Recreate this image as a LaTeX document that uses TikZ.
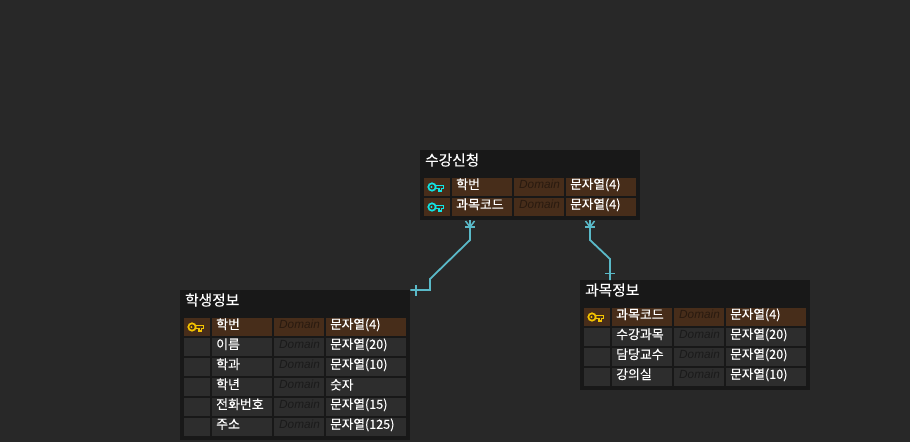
\documentclass[tikz,border=0pt]{standalone}
\usepackage{fontspec}
\setmainfont[FakeBold=0.25]{Noto Sans CJK KR}
\newfontfamily\domfont{Liberation Sans}
\definecolor{bg}{HTML}{282828}
\definecolor{outer}{HTML}{181818}
\definecolor{rowc}{HTML}{2D2D2D}
\definecolor{keyrow}{HTML}{472D1A}
\definecolor{link}{HTML}{5AB9C8}
\definecolor{pkkey}{HTML}{F5C400}
\definecolor{fkkey}{HTML}{10E4E4}
\tikzset{
  tablebox/.style={fill=outer,draw=none,inner sep=0pt,anchor=north west},
  cellbox/.style={inner sep=0pt,anchor=north west,draw=none,minimum height=18pt},
  plainrow/.style={fill=rowc},
  pkrow/.style={fill=keyrow},
  titletext/.style={text=white,font=\fontsize{14.7}{16}\selectfont,inner sep=0pt,anchor=west},
  celltext/.style={text=white,font=\fontsize{12.9}{14}\selectfont,inner sep=0pt,anchor=west},
  typetext/.style={text=white,font=\fontsize{12.6}{14}\selectfont,inner sep=0pt,anchor=west},
  domtext/.style={text=black,text opacity=0.42,font=\domfont\itshape\fontsize{11.8}{14}\selectfont,inner sep=0pt,anchor=west},
  connector/.style={draw=link,line width=1.8pt,line join=miter},
  tick/.style={draw=link,line width=1.8pt},
  crow/.style={draw=link,line width=1.5pt},
}
\newcommand{\tablerow}[8]{%
  \node[cellbox,#4,minimum width=26pt] (#1i) at (#2,#3) {};
  \node[cellbox,#4,minimum width=60pt] (#1n) at (#2+28,#3) {};
  \node[cellbox,#4,minimum width=50pt] (#1d) at (#2+90,#3) {};
  \node[cellbox,#4,minimum width=#5pt] (#1t) at (#2+142,#3) {};
  \node[celltext] (#1nt) at (#2+32,#3+6.3) {#6};
  \node[domtext] (#1dt) at (#2+95,#3+6) {Domain};
  \node[typetext] (#1tt) at (#2+146,#3+6.8) {#7};
  \ifx\relax#8\relax\else\keyicon{#2+4}{#3+9}{#8}\fi
}
\newcommand{\keyicon}[3]{%
  \begin{scope}[shift={(#1,#2)}]
    \draw[#3,line width=1.6pt,line join=miter] (7,-1.5) -- (15.6,-1.5) -- (15.6,1.5) -- (13.6,1.5) -- (13.6,3.8) -- (11.2,3.8) -- (11.2,1.5) -- (7.5,1.5);
    \draw[#3,line width=1.7pt] (4,0) circle (3.7);
    \fill[#3] (3.4,0) circle (1.1);
  \end{scope}
}
\begin{document}
\begin{tikzpicture}[x=1pt,y=-1pt]
\useasboundingbox[fill=bg] (0,0) rectangle (910,442);
% table: enrolment
\node[tablebox,minimum width=220pt,minimum height=70pt] (enrol) at (420,150) {};
\node[titletext] (enroltitle) at (425,160) {수강신청};
\tablerow{ea}{424}{178}{pkrow}{70}{학번}{문자열(4)}{fkkey}
\tablerow{eb}{424}{198}{pkrow}{70}{과목코드}{문자열(4)}{fkkey}
% table: students
\node[tablebox,minimum width=230pt,minimum height=150pt] (stud) at (180,290) {};
\node[titletext] (studtitle) at (185,300) {학생정보};
\tablerow{sa}{184}{318}{pkrow}{80}{학번}{문자열(4)}{pkkey}
\tablerow{sb}{184}{338}{plainrow}{80}{이름}{문자열(20)}{}
\tablerow{sc}{184}{358}{plainrow}{80}{학과}{문자열(10)}{}
\tablerow{sd}{184}{378}{plainrow}{80}{학년}{숫자}{}
\tablerow{se}{184}{398}{plainrow}{80}{전화번호}{문자열(15)}{}
\tablerow{sf}{184}{418}{plainrow}{80}{주소}{문자열(125)}{}
% table: courses
\node[tablebox,minimum width=230pt,minimum height=110pt] (cour) at (580,280) {};
\node[titletext] (courtitle) at (585,290) {과목정보};
\tablerow{ca}{584}{308}{pkrow}{80}{과목코드}{문자열(4)}{pkkey}
\tablerow{cb}{584}{328}{plainrow}{80}{수강과목}{문자열(20)}{}
\tablerow{cc}{584}{348}{plainrow}{80}{담당교수}{문자열(20)}{}
\tablerow{cd}{584}{368}{plainrow}{80}{강의실}{문자열(10)}{}
% connectors
\coordinate (l0) at (470,220);
\coordinate (l1) at (470,240);
\coordinate (l2) at (430,279);
\coordinate (l3) at (430,290);
\coordinate (r0) at (590,220);
\coordinate (r1) at (590,240);
\coordinate (r2) at (610,259);
\draw[connector] (l0) -- (l1) -- (l2) -- (l3) -- (stud.north east);
\draw[connector] (r0) -- (r1) -- (r2) -- (cour.north west -| r2);
% crow's feet and bars
\foreach \c in {470,590}{
  \draw[tick] (\c-5,227) -- (\c+5,227);
  \draw[crow] (\c-4.5,221) -- (\c,227) -- (\c+4.5,221);
}
\draw[tick] (416,285) -- (416,295.5);
\draw[tick] (605,273.5) -- (615,273.5);
\end{tikzpicture}
\end{document}
